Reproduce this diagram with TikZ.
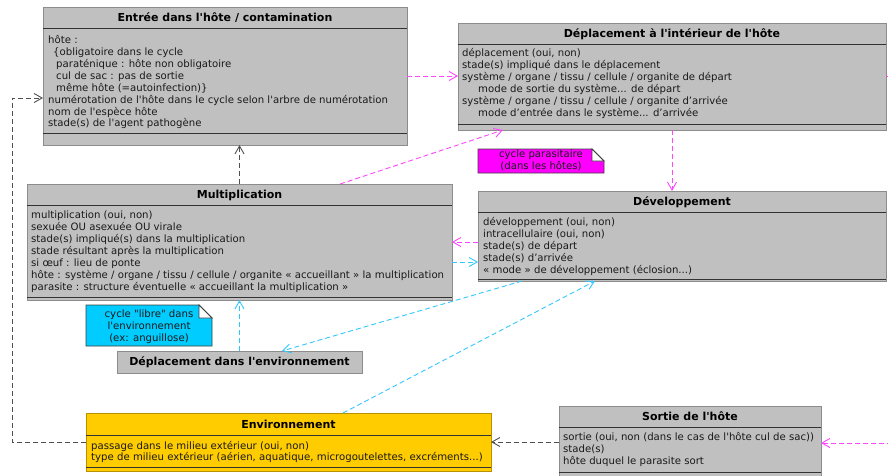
\documentclass[tikz,border=0pt]{standalone}
\usepackage{fontspec}
\newfontfamily\umlfont{DejaVu Sans}
\usetikzlibrary{arrows.meta}
\definecolor{boxfill}{RGB}{192,192,192}
\definecolor{boxline}{RGB}{140,140,140}
\definecolor{envfill}{RGB}{255,204,0}
\definecolor{envline}{RGB}{185,145,0}
\definecolor{magline}{RGB}{255,70,255}
\definecolor{cyanline}{RGB}{50,200,255}
\definecolor{grayline}{RGB}{80,80,80}
\definecolor{notemag}{RGB}{255,0,255}
\definecolor{notecyan}{RGB}{0,204,255}
\newcommand\tdots{...}
\tikzset{
  umlbox/.style={draw=boxline, fill=boxfill, line width=1pt, inner sep=0pt, outer sep=0pt, anchor=north west},
  envbox/.style={umlbox, draw=envline, fill=envfill},
  ttl/.style={font=\umlfont\fontsize{11}{13}\selectfont\bfseries, inner sep=0pt, anchor=base},
  attr/.style={font=\umlfont\fontsize{10.15}{12}\selectfont, inner sep=0pt, anchor=base west, text=black!90},
  notetxt/.style={attr, anchor=base},
  divider/.style={draw=black!80, line width=1pt},
  notebody/.style={draw=black!75, line width=0.8pt},
  dep/.style={dash pattern=on 5pt off 3pt, line width=0.9pt, -{Straight Barb[length=8pt,width=9pt]}},
  magdep/.style={dep, draw=magline},
  cyandep/.style={dep, draw=cyanline},
  graydep/.style={dep, draw=grayline}
}
\newcommand\umlnote[6]{%
  \filldraw[notebody, fill=#6] (#1,#2) -- ({#3-#5},#2) -- (#3,{#2+#5}) -- (#3,#4) -- (#1,#4) -- cycle;
  \filldraw[notebody, fill=white] ({#3-#5},#2) -- ({#3-#5},{#2+#5}) -- (#3,{#2+#5}) -- cycle;}
\begin{document}
\begin{tikzpicture}[x=1pt,y=-1pt]
\useasboundingbox (0,0) rectangle (888,475);
\clip (0,0) rectangle (888,475);
\fill[white] (0,0) rectangle (888,475);

% ---------- boxes ----------
\node[umlbox, minimum width=364pt, minimum height=138pt] (entree) at (43,7) {};
\draw[divider] (43,28) -- (407,28);
\draw[divider] (43,133) -- (407,133);
\node[ttl] (entree-t) at (225,21.5) {Entrée dans l'hôte / contamination};
\foreach \t [count=\i from 0] in {{hôte :},
  {\hspace*{5pt}\{obligatoire dans le cycle},
  {\hspace*{8pt}paraténique : hôte non obligatoire},
  {\hspace*{8pt}cul de sac : pas de sortie},
  {\hspace*{8pt}même hôte (=autoinfection)\}},
  {numérotation de l'hôte dans le cycle selon l'arbre de numérotation},
  {nom de l'espèce hôte},
  {stade(s) de l'agent pathogène}}
  \node[attr] (ent-\i) at (48,{43.3+11.95*\i}) {\t};

\node[umlbox, minimum width=428pt, minimum height=107pt] (depint) at (458,23) {};
\draw[divider] (458,44) -- (886,44);
\draw[divider] (458,124) -- (886,124);
\node[ttl] (depint-t) at (672,37.3) {Déplacement à l'intérieur de l'hôte};
\foreach \t [count=\i from 0] in {{déplacement (oui, non)},
  {stade(s) impliqué dans le déplacement},
  {système / organe / tissu / cellule / organite de départ},
  {\hspace*{16pt}mode de sortie du système\tdots{} de départ},
  {système / organe / tissu / cellule / organite d’arrivée},
  {\hspace*{16pt}mode d’entrée dans le système\tdots{} d’arrivée}}
  \node[attr] (dpi-\i) at (462,{56.7+12*\i}) {\t};

\node[umlbox, minimum width=425pt, minimum height=116pt] (mult) at (27,184) {};
\draw[divider] (27,205) -- (452,205);
\draw[divider] (27,297) -- (452,297);
\node[ttl] (mult-t) at (239.5,198.3) {Multiplication};
\foreach \t [count=\i from 0] in {{multiplication (oui, non)},
  {sexuée OU asexuée OU virale},
  {stade(s) impliqué(s) dans la multiplication},
  {stade résultant après la multiplication},
  {si œuf : lieu de ponte},
  {hôte : système / organe / tissu / cellule / organite « accueillant » la multiplication},
  {parasite : structure éventuelle « accueillant la multiplication »}}
  \node[attr] (mul-\i) at (31,{218.3+12*\i}) {\t};

\node[umlbox, minimum width=408pt, minimum height=90pt] (dev) at (478,191) {};
\draw[divider] (478,212) -- (886,212);
\draw[divider] (478,279) -- (886,279);
\node[ttl] (dev-t) at (682,205.3) {Développement};
\foreach \t [count=\i from 0] in {{développement (oui, non)},
  {intracellulaire (oui, non)},
  {stade(s) de départ},
  {stade(s) d’arrivée},
  {« mode » de développement (éclosion\tdots)}}
  \node[attr] (dev-\i) at (483,{225.3+12*\i}) {\t};

\node[umlbox, minimum width=245pt, minimum height=22pt] (depenv) at (117,351) {};
\node[ttl] (depenv-t) at (239.5,365.8) {Déplacement dans l'environnement};

\node[envbox, minimum width=405pt, minimum height=58pt] (env) at (86,413) {};
\draw[divider] (86,435) -- (491,435);
\draw[divider] (86,467) -- (491,467);
\node[ttl] (env-t) at (288.5,428.5) {Environnement};
\node[attr] (env-0) at (91,449) {passage dans le milieu extérieur (oui, non)};
\node[attr] (env-1) at (91,460.8) {type de milieu extérieur (aérien, aquatique, microgoutelettes, excréments\tdots)};

\node[umlbox, minimum width=262pt, minimum height=80pt] (sortie) at (559,406) {};
\draw[divider] (559,427) -- (821,427);
\draw[divider] (559,472) -- (821,472);
\node[ttl] (sortie-t) at (690,420.5) {Sortie de l'hôte};
\foreach \t [count=\i from 0] in {{sortie (oui, non (dans le cas de l'hôte cul de sac))},
  {stade(s)},
  {hôte duquel le parasite sort}}
  \node[attr] (sor-\i) at (563,{440.7+12*\i}) {\t};

% ---------- notes ----------
\umlnote{478}{149}{604}{173}{12}{notemag}
\node[notetxt] (nmag-0) at (541,157.7) {cycle parasitaire};
\node[notetxt] (nmag-1) at (541,169.3) {(dans les hôtes)};
\umlnote{86}{305}{212}{346}{13}{notecyan}
\node[notetxt] (ncy-0) at (149,317.3) {cycle "libre" dans};
\node[notetxt] (ncy-1) at (149,329) {l'environnement};
\node[notetxt] (ncy-2) at (149,341) {(ex: anguillose)};

% ---------- connectors ----------
\coordinate (offR1) at (900,76.5);
\coordinate (offR2) at (900,443);
\coordinate (m262) at ([yshift=-20pt]mult.east);
\coordinate (entL) at ([yshift=-22pt]entree.west);

\draw[graydep] (mult.north) -- (mult.north |- entree.south);
\draw[magdep] (entree.east) -- (entree.east -| depint.west);
\draw[magdep, -] (depint.east) -- (offR1);
\draw[magdep] ([xshift=100.5pt]mult.north) -- ([xshift=-169pt]depint.south);
\draw[magdep] (depint.south) -- (depint.south |- dev.north);
\draw[magdep] (mult.east -| dev.west) -- (mult.east);
\draw[cyandep] (m262) -- (m262 -| dev.west);
\draw[cyandep] ([xshift=-160pt]dev.south) -- ([xshift=42.5pt]depenv.north);
\draw[cyandep] ([xshift=54.5pt]env.north) -- ([xshift=-87pt]dev.south);
\draw[cyandep] (depenv.north) -- (depenv.north |- mult.south);
\draw[graydep] (env.east -| sortie.west) -- (env.east);
\draw[magdep] (offR2) -- (offR2 -| sortie.east);
\draw[graydep] (env.west) -- ++(-74,0) |- (entL);
\end{tikzpicture}
\end{document}
